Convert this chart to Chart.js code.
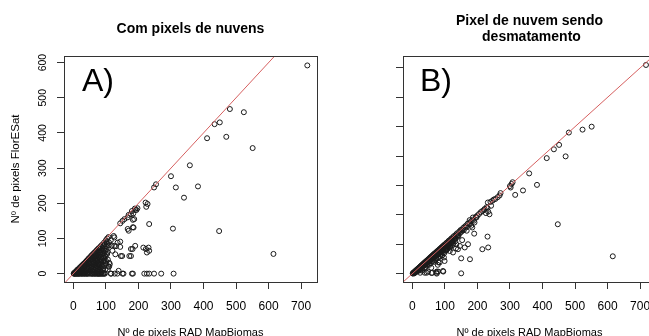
<!DOCTYPE html>
<html>
<head>
<meta charset="utf-8">
<script src="https://cdn.jsdelivr.net/npm/chart.js@4.4.1/dist/chart.umd.min.js"></script>
<style>
  html, body { margin: 0; padding: 0; background: #fff; overflow: hidden; }
  body { width: 649px; height: 336px; position: relative; }
  canvas { position: absolute; top: 0; }
  #chartA { left: 0; }
  #chartB { left: 339px; }
</style>
</head>
<body>
<canvas id="chartA" width="339" height="336"></canvas>
<canvas id="chartB" width="339" height="336"></canvas>
<script>
const xTicks = [0, 100, 200, 300, 400, 500, 600, 700];
const yTicksA = [0, 100, 200, 300, 400, 500, 600];
const yTicksB = [0, 100, 200, 300, 400, 500, 600, 700];
const titleA = ["Com pixels de nuvens"];
const titleB = ["Pixel de nuvem sendo", " desmatamento"];
const xLabel = "Nº de pixels RAD MapBiomas";
const yLabel = "Nº de pixels FlorESat";
const diagLine = [-40, 780]; // abline(0, 1)

// [RAD MapBiomas, FlorESat] - com pixels de nuvens
const pointsA = [
  [719,592],[481,468],[524,459],[434,425],[450,430],[411,385],[470,389],[551,357],
  [358,308],[300,277],[315,245],[383,248],[340,216],[248,245],[254,254],
  [222,202],[228,198],[224,190],[197,186],[190,181],[180,178],[170,167],[183,153],
  [233,141],[183,132],[170,122],[144,143],[151,150],[157,155],[306,128],[448,121],[615,56],
  [124,107],[144,91],[131,78],[190,79],[177,70],[215,74],[231,74],[233,65],[129,55],
  [150,50],[177,50],[112,27],[108,20],[139,8],
  [189,185],[194,181],[184,171],[177,169],[167,160],[187,155],[167,127],[185,131],
  [126,103],[136,88],[126,79],[144,76],[182,70],[223,70],[226,60],[146,50],[172,50],
  [100,36],[110,31],[80,27],
  [95,0],[115,0],[116,0],[127,0],[135,0],[151,0],[154,0],[180,0],[183,0],[218,0],
  [226,0],[233,0],[248,0],[270,0],[308,0],
  [100,95],[104,100],[108,104],[103,85],[97,70],[110,88],[115,95],[118,80],[105,62],
  [95,45],[100,55],[92,35],[88,20],[120,65],
  [1,0],[2,1],[3,2],[4,0],[5,4],[6,3],[8,0],[9,7],[10,4],[12,11],[13,2],[14,8],
  [16,0],[17,15],[18,6],[19,11],[21,18],[22,3],[24,0],[25,22],[26,14],[27,7],[28,25],
  [29,19],[30,2],[32,0],[33,29],[34,11],[35,23],[36,5],[37,33],[38,17],[40,0],[41,37],
  [42,27],[43,9],[44,20],[45,41],[46,14],[46,33],[48,0],[49,45],[50,5],[50,25],[51,37],
  [52,17],[53,49],[54,30],[54,9],[56,0],[57,53],[57,21],[58,41],[59,13],[60,33],[61,56],
  [62,4],[62,47],[62,26],[64,0],[65,60],[65,18],[66,38],[67,51],[67,9],[68,29],[69,64],
  [70,44],[70,3],[70,22],[72,0],[73,68],[73,35],[74,14],[75,55],[76,26],[77,72],[77,5],
  [78,45],[79,62],[80,0],[80,18],[80,36],[82,75],[83,54],[84,8],[85,0],[86,28],[88,82],
  [88,44],[90,0],[91,65],[92,15],[94,88],[96,52],[97,0],[98,30],[102,70],[106,12],
  [3,0],[6,0],[10,0],[12,0],[14,0],[18,0],[20,0],[26,0],[28,0],[34,0],[36,0],[42,0],
  [44,0],[52,0],[58,0],[60,0],[66,0],[68,0],[74,0],[76,0],[78,0],[82,0],[87,0],[92,0],
  [7,5],[11,8],[15,12],[15,4],[20,8],[23,14],[23,20],[26,4],[29,10],[31,27],[31,15],
  [34,19],[36,30],[38,8],[39,24],[40,33],[42,16],[44,38],[44,4],[47,22],[47,42],[49,30],
  [52,44],[53,12],[55,40],[55,19],[56,50],[58,28],[59,6],[60,45],[61,36],[63,58],[63,14],
  [64,32],[65,48],[66,24],[67,42],[68,58],[69,16],[71,50],[71,34],[72,64],[72,8],[74,40],
  [74,58],[75,20],[76,48],[77,30],[78,66],[78,12],[79,52],[80,72],[81,42],[81,24],[82,60],
  [83,34],[84,78],[84,16],[85,48],[86,66],[86,4],[87,38],[88,56],[89,26],[90,72],[90,10],
  [91,46],[93,80],[93,58],[94,22],[95,36],[96,84],[97,64],[98,12],[99,48],[100,78],
  [101,28],[102,90],[104,56],[106,40],[108,80],[110,20]
];

// [RAD MapBiomas, FlorESat] - pixel de nuvem sendo desmatamento
const pointsB = [
  [718,710],[481,480],[523,490],[551,500],[435,423],[451,438],[413,393],[471,399],
  [359,341],[383,302],[308,311],[302,293],[316,268],[340,283],[271,274],
  [246,248],[250,252],[240,244],[231,223],[220,216],[233,211],[226,206],[232,242],
  [242,231],[237,202],[231,126],[233,89],[215,83],[447,168],[616,59],
  [190,136],[184,157],[177,168],[189,180],[197,191],[191,174],[181,163],[165,157],
  [176,182],[186,191],[167,146],[146,94],[150,52],[177,49],[150,1],[116,89],[105,83],
  [134,86],[125,72],[115,77],[140,83],[161,89],[171,100],[153,114],[135,100],
  [97,55],[80,38],[99,43],[84,38],[95,7],[75,7],[59,2],[44,3],[24,3],[75,0],
  [94,9],[79,7],[74,3],[61,3],[48,7],[38,3],
  [175,172],[180,178],[185,183],[195,193],[200,198],[205,203],[210,209],[215,213],
  [222,220],[228,226],[255,254],[262,260],[268,266],[300,298],[305,305],
  [1,1],[2,0],[3,3],[4,2],[5,5],[6,1],[7,6],[8,8],[9,4],[10,9],[11,11],[12,6],
  [13,12],[14,14],[15,9],[16,15],[17,17],[18,12],[19,18],[20,20],[21,14],[22,21],
  [23,23],[24,17],[25,24],[26,26],[27,20],[28,27],[29,29],[30,23],[31,30],[32,32],
  [33,26],[34,33],[35,35],[36,28],[37,36],[38,38],[39,31],[40,39],[41,41],[42,34],
  [43,42],[44,44],[45,36],[46,45],[47,47],[48,39],[49,48],[50,50],[51,42],[52,51],
  [53,53],[54,44],[55,54],[56,56],[57,47],[58,57],[59,59],[60,50],[61,60],[62,62],
  [63,52],[64,63],[65,65],[66,55],[67,66],[68,68],[69,57],[70,69],[71,71],[72,60],
  [74,73],[75,75],[76,63],[78,77],[79,79],[80,66],[82,81],[84,84],[85,70],[87,86],
  [89,89],[90,74],[92,91],[94,94],[95,80],[97,96],[99,99],[100,85],[103,102],[105,105],
  [107,92],[110,109],[112,112],[114,100],[117,116],[120,120],[122,108],[125,124],
  [128,128],[131,118],[134,133],[137,137],[140,126],[144,143],[148,148],[152,150],
  [156,155],[160,159],[165,164],[170,170],
  [30,10],[40,22],[52,30],[58,20],[66,40],[72,48],[78,30],[86,58],[92,62],[98,70],
  [104,78],[110,90],[118,96],[126,104],[132,110],
  [6,4],[9,7],[12,9],[14,10],[17,12],[19,15],[22,16],[24,20],[26,19],[28,22],[30,26],
  [32,25],[34,27],[35,30],[37,30],[39,35],[41,33],[43,37],[45,40],[46,38],[48,42],
  [50,44],[51,46],[53,45],[55,49],[56,46],[58,52],[60,54],[61,50],[63,57],[65,58],
  [66,60],[68,58],[70,62],[71,64],[73,61],[75,68],[76,70],[78,66],[80,72],[81,74],
  [83,72],[85,78],[86,76],[88,80],[90,82],[91,79],[93,86],[95,88],[96,84],[98,90],
  [101,94],[102,88],[104,96],[106,98],[108,94],[109,100],[111,104],[113,98],[115,106],
  [116,110],[119,104],[121,112],[123,116],[124,110],[127,118],[129,122],[133,120],
  [136,128],[139,132],[142,130],[146,138],[150,142],[154,146],[158,148],
  [20,10],[28,14],[35,18],[44,28],[50,34],[56,36],[62,42],[68,46],[74,52],[80,56],
  [88,64],[94,72],[102,80],[108,84],[116,92],[124,98]
];

const FONT = '"Liberation Sans", Arial, sans-serif';

// box, rotated y tick labels, title and panel letter like R base graphics
const rFrame = {
  id: 'rFrame',
  afterDraw(chart, args, opts) {
    const { ctx, chartArea: a, scales } = chart;
    ctx.save();
    ctx.strokeStyle = '#333';
    ctx.lineWidth = 1;
    ctx.strokeRect(Math.round(a.left) + 0.5, Math.round(a.top) + 0.5,
      Math.round(a.right - a.left), Math.round(a.bottom - a.top));

    ctx.fillStyle = '#000';
    ctx.textAlign = 'center';
    ctx.textBaseline = 'middle';
    if (opts.yLabels) {
      ctx.font = '10.5px ' + FONT;
      opts.yLabels.forEach(v => {
        const y = scales.y.getPixelForValue(v);
        ctx.save();
        ctx.translate(43, y);
        ctx.rotate(-Math.PI / 2);
        ctx.fillText(String(v), 0, 0);
        ctx.restore();
      });
    }

    ctx.font = 'bold 14px ' + FONT;
    const cx = (a.left + a.right) / 2;
    opts.title.forEach((line, i) => ctx.fillText(line, cx, opts.titleY + i * 16.7));

    ctx.font = '32px ' + FONT;
    ctx.textAlign = 'left';
    ctx.textBaseline = 'alphabetic';
    ctx.fillText(opts.letter, a.left + opts.letterDx, 91);
    ctx.restore();
  }
};

function makeChart(id, points, yTicks, yMin, yMax, opts) {
  const ctx = document.getElementById(id).getContext("2d");
  return new Chart(ctx, {
    type: "scatter",
    data: {
      datasets: [{
        type: "line",
        data: diagLine.map(v => ({ x: v, y: v })),
        borderColor: "rgb(214,96,96)",
        borderWidth: 1,
        pointRadius: 0,
        fill: false
      }, {
        data: points.map(p => ({ x: p[0], y: p[1] })),
        pointStyle: "circle",
        pointRadius: 2.5,
        borderWidth: 1,
        borderColor: "#1a1a1a",
        backgroundColor: "rgba(0,0,0,0)"
      }]
    },
    options: {
      responsive: false,
      animation: false,
      events: [],
      layout: { padding: { top: 56, right: 22, left: 0, bottom: 0 } },
      plugins: {
        legend: { display: false },
        tooltip: { enabled: false },
        rFrame: opts
      },
      scales: {
        x: {
          type: "linear",
          min: -28.8,
          max: 748.8,
          afterBuildTicks: s => { s.ticks = xTicks.map(v => ({ value: v })); },
          afterFit: s => { s.height = 54; },
          border: { display: false },
          grid: { drawOnChartArea: false, drawTicks: true, tickLength: 7, color: "#333" },
          ticks: { font: { size: 12, family: FONT }, color: "#000", padding: 10, maxRotation: 0, autoSkip: false },
          title: { display: true, text: xLabel, color: "#000", font: { size: 11, family: FONT }, padding: { top: 0, bottom: -4 } }
        },
        y: {
          type: "linear",
          min: yMin,
          max: yMax,
          afterBuildTicks: s => { s.ticks = yTicks.map(v => ({ value: v })); },
          afterFit: s => { s.width = 64; },
          border: { display: false },
          grid: { drawOnChartArea: false, drawTicks: true, tickLength: 7, color: "#333" },
          ticks: { display: false },
          title: { display: opts.showYTitle, text: yLabel, color: "#000", font: { size: 11.5, family: FONT }, padding: { top: 9, bottom: 0 } }
        }
      }
    },
    plugins: [rFrame]
  });
}

makeChart("chartA", pointsA, yTicksA, -23.8, 618.8,
  { title: titleA, titleY: 29, letter: "A)", letterDx: 18, yLabels: yTicksA, showYTitle: true });
makeChart("chartB", pointsB, yTicksB, -28.5, 740.5,
  { title: titleB, titleY: 20.7, letter: "B)", letterDx: 17, yLabels: null, showYTitle: false });
</script>
</body>
</html>
